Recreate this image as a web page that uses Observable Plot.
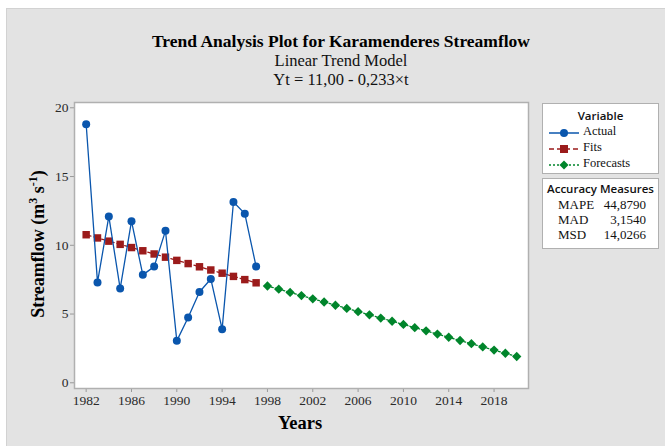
<!DOCTYPE html>
<html>
<head>
<meta charset="utf-8">
<script src="https://cdn.jsdelivr.net/npm/d3@7"></script>
<script src="https://cdn.jsdelivr.net/npm/@observablehq/plot@0.6"></script>
<style>
  html, body { margin: 0; padding: 0; background: #ffffff; }
  #wrap { position: relative; width: 665px; height: 446px; overflow: hidden; font-family: "Liberation Serif", "Times New Roman", serif; }
  #panel { position: absolute; left: 6px; top: 8px; width: 659px; height: 438px; background: #e3e3e3; border-top: 1px solid #d2d2d2; border-left: 1px solid #d2d2d2; box-sizing: border-box; }
  #chart { position: absolute; left: 0; top: 0; }
  #chart svg text { font-family: "Liberation Serif", "Times New Roman", serif !important; font-size: 13.5px !important; }
  .abs { position: absolute; white-space: nowrap; }
  .title { font-weight: bold; font-size: 17.5px; color: #000; transform: translateX(-50%); }
  .sub { font-size: 16.5px; color: #111; transform: translateX(-50%); }
  .box { position: absolute; background: #fff; border: 1.5px solid #b0b0b0; box-sizing: border-box; }
  .sans { font-family: "Open Sans", "Noto Sans", sans-serif; }
</style>
</head>
<body>
<div id="wrap">
  <div id="panel"></div>
  <div id="chart"></div>
  <div class="abs title" style="left:341px; top:31px;">Trend Analysis Plot for Karamenderes Streamflow</div>
  <div class="abs sub" style="left:341px; top:51px;">Linear Trend Model</div>
  <div class="abs sub" style="left:341px; top:70px;">Yt = 11,00 - 0,233×t</div>
  <div class="abs" style="left:37px; top:244px; transform: translate(-50%,-50%) rotate(-90deg); font-weight:bold; font-size:18px; color:#000;">Streamflow (m<sup style="font-size:12px;">3</sup> s<sup style="font-size:12px;">-1</sup>)</div>
  <div class="abs" style="left:300px; top:413px; transform: translateX(-50%); font-weight:bold; font-size:18.5px; color:#000;">Years</div>
  <div id="legend"></div>
</div>
<script>
// ---- Data ----
const actualYears = [1982, 1983, 1984, 1985, 1986, 1987, 1988, 1989, 1990, 1991, 1992, 1993, 1994, 1995, 1996, 1997];
const actualValues = [18.8, 7.3, 12.1, 6.85, 11.75, 7.85, 8.45, 11.05, 3.05, 4.75, 6.6, 7.55, 3.9, 13.15, 12.3, 8.45];
const fitYears = [1982, 1983, 1984, 1985, 1986, 1987, 1988, 1989, 1990, 1991, 1992, 1993, 1994, 1995, 1996, 1997];
const fitValues = [10.767, 10.534, 10.301, 10.068, 9.835, 9.602, 9.369, 9.136, 8.903, 8.670, 8.437, 8.204, 7.971, 7.738, 7.505, 7.272];
const forecastYears = [1998, 1999, 2000, 2001, 2002, 2003, 2004, 2005, 2006, 2007, 2008, 2009, 2010, 2011, 2012, 2013, 2014, 2015, 2016, 2017, 2018, 2019, 2020];
const forecastValues = [7.039, 6.806, 6.573, 6.340, 6.107, 5.874, 5.641, 5.408, 5.175, 4.942, 4.709, 4.476, 4.243, 4.010, 3.777, 3.544, 3.311, 3.078, 2.845, 2.612, 2.379, 2.146, 1.913];
const xTickYears = [1982, 1986, 1990, 1994, 1998, 2002, 2006, 2010, 2014, 2018];
const yTickValues = [0, 5, 10, 15, 20];
const seriesNames = ["Actual", "Fits", "Forecasts"];
const accuracyLabels = ["MAPE", "MAD", "MSD"];
const accuracyValues = ["44,8790", "3,1540", "14,0266"];

const colors = { Actual: "#0a56ad", Fits: "#9b1b1b", Forecasts: "#00852b" };

const actual = actualYears.map((y, i) => ({ year: y, value: actualValues[i] }));
const fits = fitYears.map((y, i) => ({ year: y, value: fitValues[i] }));
const forecasts = forecastYears.map((y, i) => ({ year: y, value: forecastValues[i] }));

const chart = Plot.plot({
  width: 665,
  height: 446,
  marginLeft: 74,
  marginRight: 137,
  marginTop: 102,
  marginBottom: 58,
  style: { background: "transparent", fontFamily: "Liberation Serif, Times New Roman, serif", fontSize: "13.5px", color: "#333" },
  x: { domain: [1980.97, 2021.04] },
  y: { domain: [-0.415, 20.385] },
  marks: [
    Plot.frame({ fill: "#ffffff" }),
    Plot.axisX({ ticks: xTickYears, tickFormat: d => String(d), tickSize: 4, tickPadding: 3, stroke: "#999", label: null, fill: "#2a2a2a" }),
    Plot.axisY({ ticks: yTickValues, tickSize: 4, tickPadding: 2, stroke: "#999", label: null, fill: "#2a2a2a" }),
    Plot.frame({ stroke: "#b0b0b0", strokeWidth: 1.5 }),
    Plot.line(forecasts, { x: "year", y: "value", stroke: colors.Forecasts, strokeWidth: 1.3, strokeDasharray: "2,2" }),
    Plot.dot(forecasts, { x: "year", y: "value", symbol: "diamond2", r: 4.2, fill: colors.Forecasts, stroke: "none" }),
    Plot.line(fits, { x: "year", y: "value", stroke: colors.Fits, strokeWidth: 1.3, strokeDasharray: "5,3" }),
    Plot.dot(fits, { x: "year", y: "value", symbol: "square", r: 4.2, fill: colors.Fits, stroke: "none" }),
    Plot.line(actual, { x: "year", y: "value", stroke: colors.Actual, strokeWidth: 1.3 }),
    Plot.dot(actual, { x: "year", y: "value", r: 4, fill: colors.Actual, stroke: "none" })
  ]
});
document.getElementById("chart").appendChild(chart);

// ---- Legend boxes ----
const legend = document.getElementById("legend");
const vbox = document.createElement("div");
vbox.className = "box";
vbox.style.cssText = "left:542px; top:103px; width:117px; height:71px;";
let html = '<div class="abs sans" style="left:0; width:115px; top:4px; text-align:center; font-weight:600; font-size:11.5px; color:#111;">Variable</div>';
const symbolSvg = {
  Actual: `<line x1="2" y1="6" x2="32" y2="6" stroke="${colors.Actual}" stroke-width="1.5"/><circle cx="17" cy="6" r="4" fill="${colors.Actual}"/>`,
  Fits: `<line x1="2" y1="6" x2="32" y2="6" stroke="${colors.Fits}" stroke-width="1.3" stroke-dasharray="5,3"/><rect x="13" y="2" width="8" height="8" fill="${colors.Fits}"/>`,
  Forecasts: `<line x1="2" y1="6" x2="32" y2="6" stroke="${colors.Forecasts}" stroke-width="1.3" stroke-dasharray="2,2"/><path d="M17,1.5 L21.5,6 L17,10.5 L12.5,6 Z" fill="${colors.Forecasts}"/>`
};
seriesNames.forEach((name, i) => {
  const top = 23 + i * 16;
  html += `<svg class="abs" style="left:4px; top:${top}px;" width="34" height="12">${symbolSvg[name]}</svg>`;
  html += `<div class="abs" style="left:40px; top:${top - 3}px; font-size:12.5px; color:#111;">${name}</div>`;
});
vbox.innerHTML = html;
legend.appendChild(vbox);

const abox = document.createElement("div");
abox.className = "box";
abox.style.cssText = "left:542px; top:178px; width:117px; height:71px;";
let ahtml = '<div class="abs sans" style="left:0; width:115px; top:2px; text-align:center; font-weight:600; font-size:11.5px; color:#111;">Accuracy Measures</div>';
accuracyLabels.forEach((lab, i) => {
  const top = 18 + i * 15;
  ahtml += `<div class="abs" style="left:15px; top:${top}px; font-size:13px; color:#111;">${lab}</div>`;
  ahtml += `<div class="abs" style="right:12px; top:${top}px; font-size:13px; color:#111; text-align:right;">${accuracyValues[i]}</div>`;
});
abox.innerHTML = ahtml;
legend.appendChild(abox);
</script>
</body>
</html>
